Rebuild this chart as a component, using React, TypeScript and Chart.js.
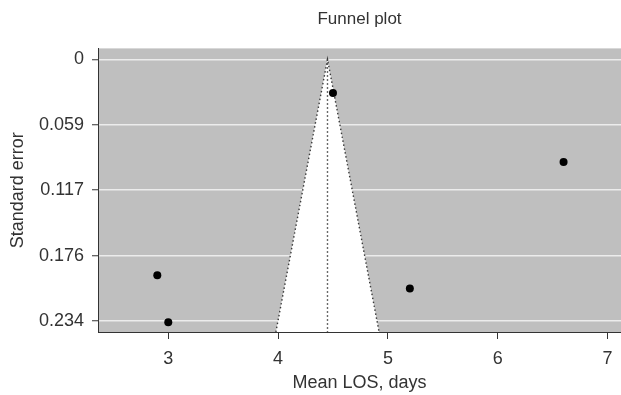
import React, { useEffect, useRef } from "react";
import { Chart, registerables } from "chart.js";

Chart.register(...registerables);

const studyMeanLOS = [2.9, 3.0, 4.5, 5.2, 6.6];
const studySE = [0.193, 0.235, 0.0301, 0.2048, 0.0917];

const funnelX = [3.98, 4.45, 4.92];
const funnelSE = [0.2438, 0, 0.2438];
const pooledX = [4.45, 4.45];
const pooledSE = [0, 0.2438];

const xTickValues = [3, 4, 5, 6, 7];
const xTickLabels = ["3", "4", "5", "6", "7"];
const yTickValues = [0, 0.0585, 0.117, 0.1755, 0.234];
const yTickLabels = ["0", "0.059", "0.117", "0.176", "0.234"];

const FONT = "'Liberation Sans', Arial, Helvetica, sans-serif";
const TEXT = "#333333";

const bgPlugin = {
  id: "panelBg",
  beforeDraw(chart: any) {
    const { ctx, chartArea } = chart;
    ctx.save();
    ctx.fillStyle = "#bfbfbf";
    ctx.fillRect(chartArea.left, chartArea.top, chartArea.right - chartArea.left, chartArea.bottom - chartArea.top);
    ctx.restore();
  },
};

export default function App() {
  const ref = useRef<HTMLCanvasElement | null>(null);
  useEffect(() => {
    document.body.style.margin = "0";
    if (!ref.current) return;
    const dotted = [1.5, 2.5];
    const chart = new Chart(ref.current, {
      type: "scatter",
      data: {
        datasets: [
          {
            label: "Studies",
            data: studyMeanLOS.map((x, i) => ({ x, y: studySE[i] })),
            backgroundColor: "#000000",
            borderColor: "#000000",
            pointRadius: 4,
            pointBorderWidth: 0,
          },
          {
            type: "line",
            label: "Pooled",
            data: pooledX.map((x, i) => ({ x, y: pooledSE[i] })),
            borderColor: "#3a3a3a",
            borderWidth: 1.4,
            borderDash: dotted,
            pointRadius: 0,
            fill: false,
          },
          {
            type: "line",
            label: "Funnel",
            data: funnelX.map((x, i) => ({ x, y: funnelSE[i] })),
            borderColor: "#3a3a3a",
            borderWidth: 1.4,
            borderDash: dotted,
            backgroundColor: "#ffffff",
            pointRadius: 0,
            fill: { value: 0.2438 },
            tension: 0,
          },
        ] as any,
      },
      options: {
        animation: false,
        responsive: false,
        layout: { padding: 0, autoPadding: false },
        plugins: {
          legend: { display: false },
          tooltip: { enabled: false },
          title: {
            display: true,
            text: "Funnel plot",
            fullSize: false,
            color: TEXT,
            font: { family: FONT, size: 17, weight: "normal" },
            padding: { top: 9, bottom: 19 },
          },
        },
        scales: {
          x: {
            type: "linear",
            min: 2.36,
            max: 7.123,
            afterBuildTicks: (scale: any) => {
              scale.ticks = xTickValues.map((v) => ({ value: v }));
            },
            afterFit: (scale: any) => {
              scale.height = 63;
              scale.paddingLeft = 0;
              scale.paddingRight = 0;
            },
            ticks: {
              callback: (_v: any, i: number) => xTickLabels[i],
              color: TEXT,
              font: { family: FONT, size: 18 },
              padding: 9,
              maxRotation: 0,
            },
            grid: {
              drawOnChartArea: false,
              drawTicks: true,
              tickLength: 7,
              tickColor: "#333333",
              tickWidth: 1,
            },
            border: { display: true, color: "#333333", width: 1 },
            title: {
              display: true,
              text: "Mean LOS, days",
              color: TEXT,
              font: { family: FONT, size: 18 },
              padding: { top: 0, bottom: 1 },
            },
          },
          y: {
            type: "linear",
            reverse: true,
            min: -0.0098,
            max: 0.2438,
            afterBuildTicks: (scale: any) => {
              scale.ticks = yTickValues.map((v) => ({ value: v }));
            },
            afterFit: (scale: any) => {
              scale.width = 98;
              scale.paddingTop = 0;
              scale.paddingBottom = 0;
            },
            ticks: {
              callback: (_v: any, i: number) => yTickLabels[i],
              color: TEXT,
              font: { family: FONT, size: 18 },
              padding: 8,
            },
            grid: {
              drawOnChartArea: true,
              color: "#ececec",
              lineWidth: 1.5,
              drawTicks: true,
              tickLength: 6,
              tickColor: "#333333",
              tickWidth: 1,
            },
            border: { display: true, color: "#333333", width: 1 },
            title: {
              display: true,
              text: "Standard error",
              color: TEXT,
              font: { family: FONT, size: 18 },
              padding: { top: 7, bottom: 0 },
            },
          },
        },
      } as any,
      plugins: [bgPlugin],
    });
    return () => chart.destroy();
  }, []);
  return (
    <div style={{ width: 621, height: 395 }}>
      <canvas ref={ref} width={621} height={395} style={{ display: "block" }} />
    </div>
  );
}
